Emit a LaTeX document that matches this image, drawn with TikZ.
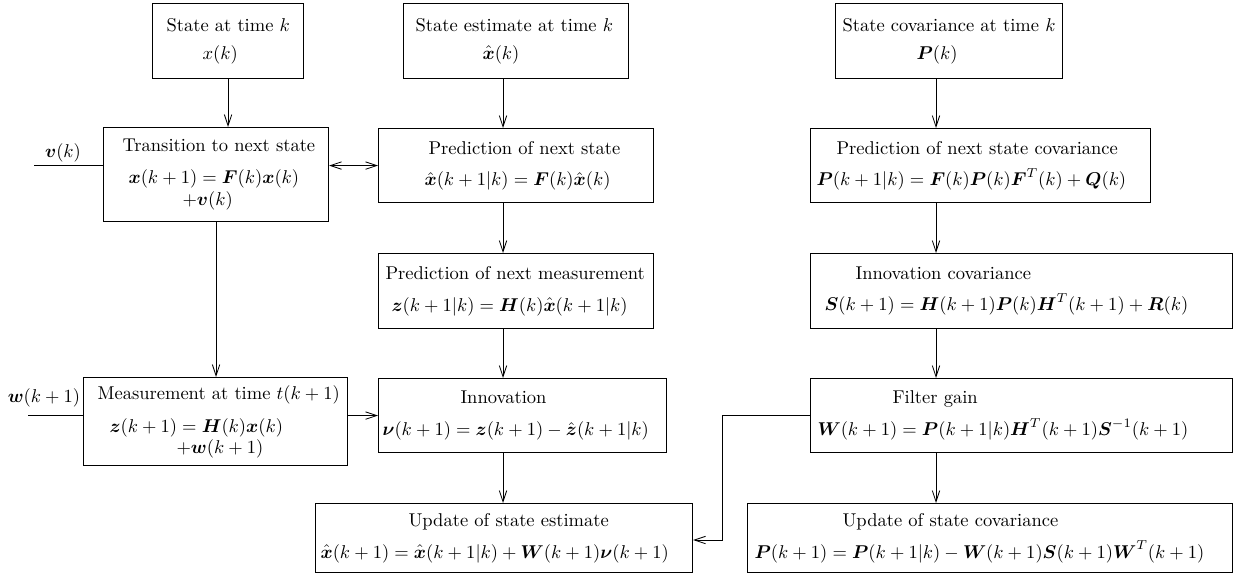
\documentclass[tikz,border=0pt]{standalone}
\usepackage{amsmath,amssymb}
\usetikzlibrary{arrows.meta}

\newdimen\px \px=0.54pt
\newcommand{\bv}[1]{\boldsymbol{#1}}

\begin{document}
\begin{tikzpicture}[x=0.54pt, y=-0.54pt, >={Straight Barb[length=6pt,width=4pt]}]
    \useasboundingbox (0,0) rectangle (1233,574);
    \begin{scope}[blk/.style={draw, line width=0.6pt, anchor=north west, inner xsep=0pt, align=left}, line width=0.45pt]
        % top row
        \node[blk, text width=151\px, minimum height=75\px] (sk) at (152, 3) {\hspace*{14\px}State at time $k$\\[3pt]\hspace*{50\px}$x(k)$};
        \node[blk, text width=225\px, minimum height=75\px] (se) at (403, 3) {\hspace*{12\px}State estimate at time $k$\\[3pt]\hspace*{79\px}$\hat{\bv{x}}(k)$};
        \node[blk, text width=227\px, minimum height=75\px] (sc) at (835, 3) {\hspace*{7\px}State covariance at time $k$\\[3pt]\hspace*{81\px}$\bv{P}(k)$};
        % prediction row
        \node[blk, text width=225\px, minimum height=94\px] (tr) at (103, 127) {\hspace*{19\px}Transition to next state\\[5pt]\hspace*{25\px}$\bv{x}(k+1) = \bv{F}(k)\bv{x}(k)$\\\hspace*{79\px}$+\bv{v}(k)$};
        \node[blk, text width=275\px, minimum height=74\px] (pr) at (378, 128) {\hspace*{50\px}Prediction of next state\\[5pt]\hspace*{46\px}$\hat{\bv{x}}(k+1|k) = \bv{F}(k)\hat{\bv{x}}(k)$};
        \node[blk, text width=340\px, minimum height=74\px] (pc) at (810, 128) {\hspace*{26\px}Prediction of next state covariance\\[5pt]\hspace*{6\px}$\bv{P}(k+1|k) = \bv{F}(k)\bv{P}(k)\bv{F}^T(k) + \bv{Q}(k)$};
        \node[blk, text width=275\px, minimum height=75\px] (pm) at (378, 253) {\hspace*{7\px}Prediction of next measurement\\[5pt]\hspace*{13\px}$\bv{z}(k+1|k) = \bv{H}(k)\hat{\bv{x}}(k+1|k)$};
        \node[blk, text width=422\px, minimum height=75\px] (ic) at (810, 253) {\hspace*{45\px}Innovation covariance\\[5pt]\hspace*{14\px}$\bv{S}(k+1) = \bv{H}(k+1)\bv{P}(k)\bv{H}^T(k+1) + \bv{R}(k)$};
        % measurement row
        \node[blk, text width=264\px, minimum height=88\px] (me) at (83, 377) {\hspace*{14\px}Measurement at time $t(k+1)$\\[6pt]\hspace*{26\px}$\bv{z}(k+1) = \bv{H}(k)\bv{x}(k)$\\[-1pt]\hspace*{93\px}$+\bv{w}(k+1)$};
        \node[blk, text width=288\px, minimum height=74\px] (in) at (378, 378) {\hspace*{82\px}Innovation\\[5pt]\hspace*{4\px}$\bv{\nu}(k+1) = \bv{z}(k+1) - \hat{\bv{z}}(k+1|k)$};
        \node[blk, text width=422\px, minimum height=74\px] (fg) at (810, 378) {\hspace*{82\px}Filter gain\\[5pt]\hspace*{7\px}$\bv{W}(k+1) = \bv{P}(k+1|k)\bv{H}^T(k+1)\bv{S}^{-1}(k+1)$};
        % update row
        \node[blk, text width=377\px, minimum height=69\px] (ue) at (315, 503) {\hspace*{93\px}Update of state estimate\\[5pt]\hspace*{5\px}$\hat{\bv{x}}(k+1) = \hat{\bv{x}}(k+1|k) + \bv{W}(k+1)\bv{\nu}(k+1)$};
        \node[blk, text width=485\px, minimum height=69\px] (uc) at (747, 503) {\hspace*{95\px}Update of state covariance\\[5pt]\hspace*{7\px}$\bv{P}(k+1) = \bv{P}(k+1|k) - \bv{W}(k+1)\bv{S}(k+1)\bv{W}^T(k+1)$};
        % noise inputs
        \coordinate (vin) at (34, 165);
        \coordinate (win) at (28, 415);
        \node (vlbl) at (63, 153) {$\bv{v}(k)$};
        \node (wlbl) at (44, 398) {$\bv{w}(k+1)$};
        \draw (vin) -- (vin -| tr.west);
        \draw (win) -- (win -| me.west);
        % column lines
        \coordinate (c2) at (503, 0);
        \coordinate (c3) at (936, 0);
        \coordinate (bend) at (722, 540);
        \path[->] (sk) edge (sk |- tr.north);
        \path[->] (tr) edge (tr |- me.north);
        \path[->] (se.south -| c2) edge (pr.north -| c2);
        \path[->] (pr.south -| c2) edge (pm.north -| c2);
        \path[->] (pm.south -| c2) edge (in.north -| c2);
        \path[->] (in.south -| c2) edge (ue.north -| c2);
        \path[->] (sc.south -| c3) edge (pc.north -| c3);
        \path[->] (pc.south -| c3) edge (ic.north -| c3);
        \path[->] (ic.south -| c3) edge (fg.north -| c3);
        \path[->] (fg.south -| c3) edge (uc.north -| c3);
        \path[<->] (tr.east |- pr.west) edge (pr.west);
        \path[->] (me.east |- in.west) edge (in.west);
        \draw[->] (fg.west) -| (bend) -- (ue.east |- bend);
    \end{scope}
\end{tikzpicture}
\end{document}
